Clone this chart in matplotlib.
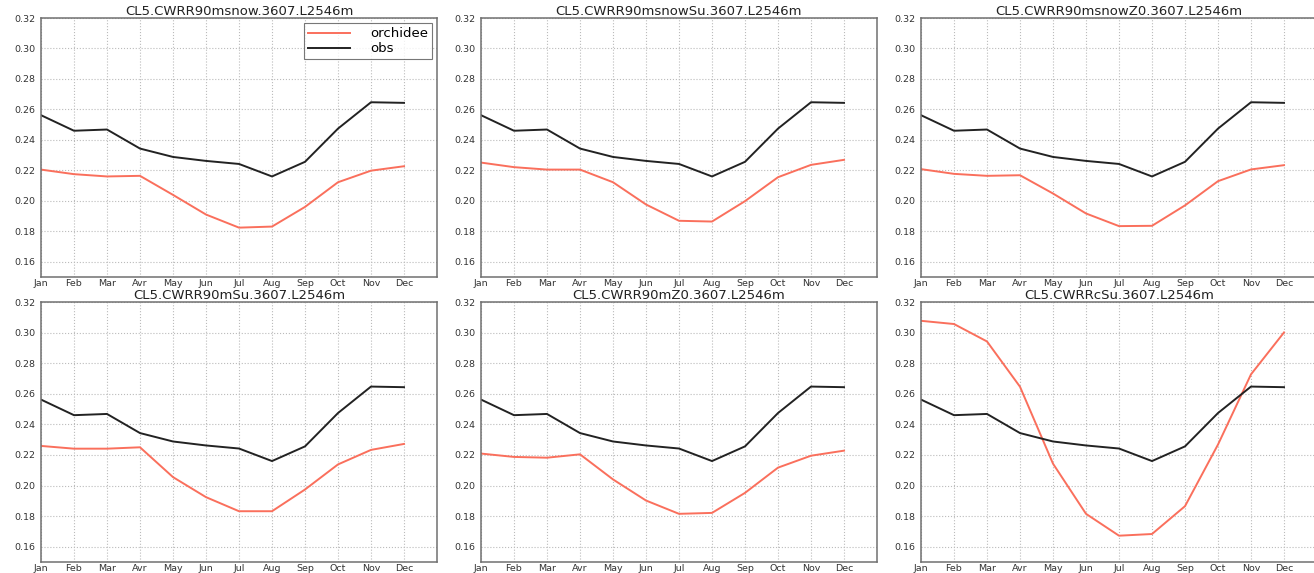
import numpy as np
import matplotlib
matplotlib.use('Agg')
import matplotlib.pyplot as plt

months = ['Jan', 'Feb', 'Mar', 'Avr', 'May', 'Jun',
          'Jul', 'Aug', 'Sep', 'Oct', 'Nov', 'Dec']

titles = ['CL5.CWRR90msnow.3607.L2546m',
          'CL5.CWRR90msnowSu.3607.L2546m',
          'CL5.CWRR90msnowZ0.3607.L2546m',
          'CL5.CWRR90mSu.3607.L2546m',
          'CL5.CWRR90mZ0.3607.L2546m',
          'CL5.CWRRcSu.3607.L2546m']

obs = [0.2562, 0.2460, 0.2468, 0.2343, 0.2288, 0.2262,
       0.2242, 0.2160, 0.2256, 0.2474, 0.2647, 0.2643]

orc_msnow = [0.2205, 0.2175, 0.2160, 0.2164, 0.2039, 0.1910,
             0.1824, 0.1831, 0.1960, 0.2122, 0.2198, 0.2227]
orc_msnowSu = [0.2251, 0.2221, 0.2205, 0.2205, 0.2122, 0.1976,
               0.1869, 0.1864, 0.1998, 0.2155, 0.2236, 0.2269]
orc_msnowZ0 = [0.2208, 0.2177, 0.2164, 0.2168, 0.2048, 0.1917,
               0.1834, 0.1836, 0.1970, 0.2129, 0.2206, 0.2234]
orc_mSu = [0.2259, 0.2241, 0.2241, 0.2250, 0.2055, 0.1924,
           0.1832, 0.1832, 0.1974, 0.2138, 0.2233, 0.2272]
orc_mZ0 = [0.2209, 0.2187, 0.2182, 0.2204, 0.2040, 0.1902,
           0.1815, 0.1821, 0.1952, 0.2117, 0.2195, 0.2228]
orc_cSu = [0.3077, 0.3056, 0.2942, 0.2646, 0.2143, 0.1815,
           0.1672, 0.1683, 0.1865, 0.2268, 0.2727, 0.3001]

orchidee = [orc_msnow, orc_msnowSu, orc_msnowZ0, orc_mSu, orc_mZ0, orc_cSu]

W, H = 1314, 573
fig = plt.figure(figsize=(W / 100, H / 100), dpi=100)

lefts = [41, 481, 921]
tops = [18, 302]
bottoms = [277, 562]
aw = 396

x = np.arange(12)
for i in range(6):
    r, c = divmod(i, 3)
    ax = fig.add_axes([lefts[c] / W, 1 - bottoms[r] / H,
                       aw / W, (bottoms[r] - tops[r]) / H])
    ax.plot(x, orchidee[i], color='#fa6f5c', lw=1.4, label='orchidee')
    ax.plot(x, obs, color='#222222', lw=1.4, label='obs')
    ax.set_xlim(0, 12)
    ax.set_ylim(0.15, 0.32)
    ax.set_xticks(x)
    ax.set_xticklabels(months)
    ax.set_yticks(np.arange(0.16, 0.3201, 0.02))
    ax.yaxis.set_major_formatter(plt.FormatStrFormatter('%.2f'))
    ax.tick_params(length=0, labelsize=6.8, colors='#333333')
    ax.tick_params(axis='x', pad=1.5)
    ax.tick_params(axis='y', pad=4)
    ax.grid(True, color='#bbbbbb', linestyle=':', linewidth=0.8)
    for s in ax.spines.values():
        s.set_color('#707070')
        s.set_linewidth(1.1)
    ax.set_title(titles[i], fontsize=9.5, color='#222222', pad=1.5)
    if i == 0:
        leg = ax.legend(loc='upper right', fontsize=9.5, handlelength=3.2,
                        fancybox=False, borderaxespad=0.4, labelspacing=0.15,
                        handletextpad=1.5, borderpad=0.3)
        leg.get_frame().set_edgecolor('#555555')
        leg.get_frame().set_linewidth(0.8)

fig.savefig('out.png', dpi=100)
